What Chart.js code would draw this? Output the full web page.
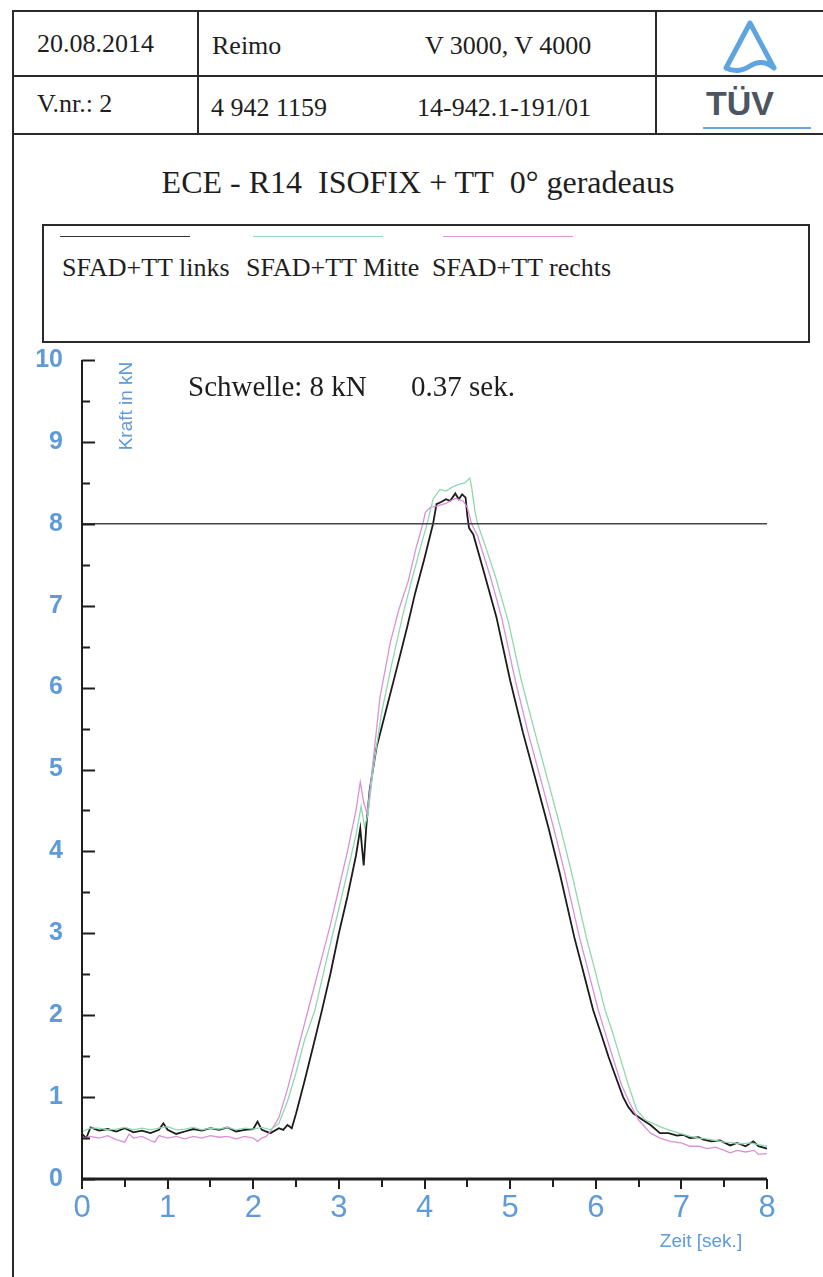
<!DOCTYPE html>
<html lang="de">
<head>
  <meta charset="UTF-8">
  <title>ECE - R14 ISOFIX + TT 0° geradeaus</title>
  <script src="https://cdn.jsdelivr.net/npm/chart.js"></script>
  <style>
    body { margin: 0; width: 823px; height: 1277px; overflow: hidden; background: #fff; position: relative; font-family: "Liberation Serif", "Times New Roman", serif; color: #1e1e1e; }
    .abs { position: absolute; }
    .hl { position: absolute; left: 12px; width: 830px; border-top: 2px solid #2a2a2a; }
    .vl { position: absolute; top: 10px; height: 123px; border-left: 2px solid #2a2a2a; }
    .cell { position: absolute; font-size: 26px; white-space: nowrap; line-height: 1; }
    .leg { position: absolute; font-size: 26px; white-space: nowrap; line-height: 1; }
    .swatch { position: absolute; height: 0; width: 130px; }
  </style>
</head>
<body>

  <!-- header frame -->
  <div class="abs" style="left:12px; top:10px; width:830px; height:1300px; border-left:2px solid #2a2a2a; border-top:2px solid #2a2a2a;"></div>
  <div class="hl" style="top:75px;"></div>
  <div class="hl" style="top:133px;"></div>
  <div class="vl" style="left:197px;"></div>
  <div class="vl" style="left:655px;"></div>

  <div class="cell" style="left:37px; top:31px;">20.08.2014</div>
  <div class="cell" style="left:212px; top:33px;">Reimo</div>
  <div class="cell" style="left:425px; top:33px;">V 3000, V 4000</div>
  <div class="cell" style="left:37px; top:91px;">V.nr.: 2</div>
  <div class="cell" style="left:211px; top:95px;">4 942 1159</div>
  <div class="cell" style="left:417px; top:95px;">14-942.1-191/01</div>

  <!-- TÜV logo -->
  <svg class="abs" style="left:700px; top:18px;" width="100" height="62" viewBox="0 0 100 62">
    <path d="M50 5 L74 50 Q62 40 50 48 Q38 56 26 50 Z" fill="none" stroke="#5ea4e0" stroke-width="5" stroke-linejoin="round"/>
  </svg>
  <div class="abs" style="left:706px; top:86px; font-family:'Liberation Sans',Arial,sans-serif; font-weight:bold; font-size:34px; color:#4c5560; line-height:1;">TÜV</div>
  <div class="abs" style="left:703px; top:127px; width:108px; border-top:2px solid #6aa6dc;"></div>

  <!-- title -->
  <div class="abs" style="left:0; top:166px; width:836px; text-align:center; font-size:32px; line-height:1; white-space:nowrap;">ECE - R14&nbsp; ISOFIX + TT&nbsp; 0° geradeaus</div>

  <!-- legend box -->
  <div class="abs" style="left:42px; top:224px; width:764px; height:115px; border:2px solid #2a2a2a;"></div>
  <div class="swatch" style="left:60px; top:236px; border-top:1.5px solid #333;"></div>
  <div class="swatch" style="left:253px; top:236px; border-top:1.5px solid #9ad9b2;"></div>
  <div class="swatch" style="left:443px; top:236px; border-top:1.5px solid #d99ad6;"></div>
  <div class="leg" style="left:62px; top:255px;">SFAD+TT links</div>
  <div class="leg" style="left:246px; top:255px;">SFAD+TT Mitte</div>
  <div class="leg" style="left:432px; top:255px;">SFAD+TT rechts</div>

  <canvas id="kraftChart" class="abs" style="left:0; top:326px;" width="823" height="944"></canvas>

  <script>
    // Zeit in Sekunden / Kraft in kN
    const linksT = [0, 0.05, 0.1, 0.2, 0.3, 0.4, 0.5, 0.6, 0.7, 0.8,
      0.9, 0.95, 1.0, 1.1, 1.2, 1.3, 1.4, 1.5, 1.6, 1.7,
      1.8, 1.9, 2.0, 2.05, 2.1, 2.2, 2.3, 2.35, 2.4, 2.45,
      2.5, 2.6, 2.7, 2.8, 2.9, 3.0, 3.1, 3.2, 3.25, 3.27,
      3.29, 3.32, 3.36, 3.44, 3.56, 3.68, 3.8, 3.89, 4.0, 4.1,
      4.14, 4.2, 4.25, 4.3, 4.36, 4.4, 4.44, 4.48, 4.5, 4.52,
      4.57, 4.71, 4.84, 5.0, 5.15, 5.31, 5.45, 5.58, 5.75, 5.85,
      5.97, 6.06, 6.15, 6.25, 6.32, 6.38, 6.44, 6.55, 6.64, 6.75,
      6.85, 6.95, 7.02, 7.1, 7.2, 7.26, 7.35, 7.45, 7.57, 7.65,
      7.75, 7.84, 7.9, 8.0];
    const linksV = [0.55, 0.50, 0.63, 0.59, 0.61, 0.58, 0.62, 0.57, 0.59, 0.56,
      0.60, 0.68, 0.60, 0.55, 0.58, 0.61, 0.59, 0.62, 0.60, 0.63,
      0.58, 0.60, 0.61, 0.70, 0.60, 0.56, 0.62, 0.60, 0.66, 0.62,
      0.80, 1.20, 1.62, 2.05, 2.50, 3.00, 3.45, 3.95, 4.28, 4.05,
      3.83, 4.30, 4.75, 5.27, 5.76, 6.25, 6.75, 7.15, 7.58, 8.00,
      8.24, 8.27, 8.30, 8.28, 8.37, 8.30, 8.36, 8.32, 8.10, 7.95,
      7.87, 7.35, 6.86, 6.09, 5.45, 4.83, 4.28, 3.73, 2.95, 2.55,
      2.06, 1.78, 1.49, 1.20, 1.00, 0.88, 0.80, 0.72, 0.66, 0.56,
      0.56, 0.53, 0.54, 0.50, 0.51, 0.48, 0.46, 0.47, 0.41, 0.44,
      0.40, 0.46, 0.40, 0.37];

    const mitteT = [0, 0.1, 0.2, 0.3, 0.4, 0.5, 0.6, 0.7, 0.8, 0.9,
      1.0, 1.1, 1.2, 1.3, 1.4, 1.5, 1.6, 1.7, 1.8, 1.9,
      2.0, 2.1, 2.2, 2.3, 2.4, 2.5, 2.6, 2.72, 2.85, 3.0,
      3.1, 3.2, 3.26, 3.3, 3.34, 3.4, 3.5, 3.62, 3.75, 3.86,
      3.95, 4.03, 4.1, 4.18, 4.25, 4.33, 4.4, 4.47, 4.53, 4.55,
      4.59, 4.62, 4.72, 4.83, 4.98, 5.13, 5.29, 5.45, 5.59, 5.72,
      5.89, 5.99, 6.11, 6.2, 6.28, 6.38, 6.48, 6.58, 6.75, 6.85,
      7.0, 7.1, 7.2, 7.3, 7.4, 7.5, 7.6, 7.7, 7.8, 7.9,
      8.0];
    const mitteV = [0.58, 0.62, 0.62, 0.60, 0.61, 0.63, 0.60, 0.62, 0.60, 0.62,
      0.64, 0.60, 0.61, 0.63, 0.60, 0.62, 0.61, 0.63, 0.60, 0.62,
      0.61, 0.63, 0.60, 0.68, 0.95, 1.30, 1.70, 2.06, 2.65, 3.30,
      3.75, 4.20, 4.55, 4.30, 4.45, 5.00, 5.70, 6.30, 6.90, 7.35,
      7.70, 8.00, 8.30, 8.42, 8.40, 8.45, 8.48, 8.50, 8.56, 8.45,
      8.15, 8.00, 7.70, 7.35, 6.80, 6.09, 5.45, 4.83, 4.28, 3.73,
      2.95, 2.55, 2.06, 1.78, 1.50, 1.15, 0.84, 0.72, 0.64, 0.60,
      0.55, 0.52, 0.50, 0.49, 0.47, 0.45, 0.44, 0.43, 0.44, 0.42,
      0.40];

    const rechtsT = [0, 0.1, 0.2, 0.3, 0.4, 0.5, 0.55, 0.6, 0.7, 0.8,
      0.85, 0.9, 1.0, 1.1, 1.2, 1.3, 1.4, 1.5, 1.6, 1.7,
      1.8, 1.9, 2.0, 2.05, 2.1, 2.15, 2.2, 2.3, 2.4, 2.5,
      2.64, 2.8, 2.9, 3.0, 3.1, 3.2, 3.25, 3.29, 3.33, 3.4,
      3.48, 3.6, 3.7, 3.81, 3.9, 3.98, 4.01, 4.07, 4.15, 4.25,
      4.36, 4.45, 4.5, 4.55, 4.62, 4.77, 4.9, 5.06, 5.21, 5.37,
      5.51, 5.64, 5.81, 5.91, 6.03, 6.12, 6.2, 6.3, 6.4, 6.5,
      6.64, 6.75, 6.87, 7.0, 7.1, 7.2, 7.3, 7.4, 7.5, 7.57,
      7.65, 7.75, 7.85, 7.9, 8.0];
    const rechtsV = [0.50, 0.52, 0.50, 0.53, 0.48, 0.45, 0.55, 0.50, 0.52, 0.47,
      0.45, 0.53, 0.50, 0.52, 0.49, 0.52, 0.50, 0.53, 0.51, 0.52,
      0.49, 0.52, 0.50, 0.46, 0.50, 0.52, 0.58, 0.75, 1.10, 1.50,
      2.06, 2.70, 3.10, 3.55, 4.00, 4.50, 4.85, 4.60, 4.46, 5.10,
      5.88, 6.55, 6.95, 7.30, 7.70, 8.00, 8.14, 8.20, 8.22, 8.25,
      8.31, 8.28, 8.20, 8.00, 7.85, 7.35, 6.86, 6.09, 5.45, 4.83,
      4.28, 3.73, 2.95, 2.55, 2.06, 1.75, 1.48, 1.15, 0.92, 0.72,
      0.56, 0.50, 0.46, 0.44, 0.40, 0.40, 0.37, 0.39, 0.35, 0.32,
      0.35, 0.33, 0.35, 0.30, 0.31];

    const schwelleT = [0, 8];
    const schwelleV = [8, 8];

    const xTicks = [0, 1, 2, 3, 4, 5, 6, 7, 8];
    const yTicks = [0, 1, 2, 3, 4, 5, 6, 7, 8, 9, 10];

    const blue = '#5f9ad9';

    function pts(ts, vs) {
      return ts.map((t, i) => ({ x: t, y: vs[i] }));
    }

    // axes, inner ticks and labels in the style of the printout
    const axesPlugin = {
      id: 'axesPlugin',
      afterDraw(chart) {
        const ctx = chart.ctx;
        const a = chart.chartArea;
        const xs = chart.scales.x;
        const ys = chart.scales.y;
        ctx.save();
        ctx.strokeStyle = '#1e1e1e';

        // y axis + ticks pointing inwards
        ctx.lineWidth = 2;
        ctx.beginPath();
        ctx.moveTo(a.left, a.top);
        ctx.lineTo(a.left, a.bottom);
        ctx.stroke();
        for (let v = 0; v <= 10; v += 0.5) {
          const y = Math.round(ys.getPixelForValue(v)) + 0.5;
          const len = (v % 1 === 0) ? 13 : 8;
          ctx.lineWidth = 2;
          ctx.beginPath();
          ctx.moveTo(a.left, y);
          ctx.lineTo(a.left + len, y);
          ctx.stroke();
        }

        // x axis + ticks pointing down
        ctx.lineWidth = 3;
        ctx.beginPath();
        ctx.moveTo(a.left, a.bottom);
        ctx.lineTo(a.right, a.bottom);
        ctx.stroke();
        for (let t = 0; t <= 8; t += 0.5) {
          const x = Math.round(xs.getPixelForValue(t));
          const len = (t % 1 === 0) ? 10 : 8;
          ctx.lineWidth = 2;
          ctx.beginPath();
          ctx.moveTo(x, a.bottom);
          ctx.lineTo(x, a.bottom + len);
          ctx.stroke();
        }

        // axis titles
        ctx.fillStyle = blue;
        ctx.font = '19px "Liberation Sans", Arial, sans-serif';
        ctx.textAlign = 'center';
        ctx.textBaseline = 'middle';
        ctx.fillText('Zeit [sek.]', a.right - 66, a.bottom + 63);
        ctx.save();
        ctx.translate(a.left + 45, a.top + 46);
        ctx.rotate(-Math.PI / 2);
        ctx.fillText('Kraft in kN', 0, 0);
        ctx.restore();

        // threshold note
        ctx.fillStyle = '#1e1e1e';
        ctx.font = '29px "Liberation Serif", "Times New Roman", serif';
        ctx.textAlign = 'left';
        ctx.textBaseline = 'alphabetic';
        ctx.fillText('Schwelle: 8 kN', a.left + 106, a.top + 36);
        ctx.fillText('0.37 sek.', a.left + 329, a.top + 36);
        ctx.restore();
      }
    };

    new Chart(document.getElementById('kraftChart').getContext('2d'), {
      type: 'line',
      data: {
        datasets: [
          { label: 'Schwelle', data: pts(schwelleT, schwelleV), borderColor: '#444', borderWidth: 1.5 },
          { label: 'SFAD+TT Mitte', data: pts(mitteT, mitteV), borderColor: '#8fd8b0', borderWidth: 1.3 },
          { label: 'SFAD+TT rechts', data: pts(rechtsT, rechtsV), borderColor: '#da92d6', borderWidth: 1.3 },
          { label: 'SFAD+TT links', data: pts(linksT, linksV), borderColor: '#1c1c1c', borderWidth: 1.8 }
        ]
      },
      options: {
        responsive: false,
        animation: false,
        elements: { point: { radius: 0 }, line: { tension: 0, fill: false } },
        layout: { padding: { left: 0, right: 56, top: 4, bottom: 0 } },
        plugins: { legend: { display: false }, tooltip: { enabled: false } },
        scales: {
          x: {
            type: 'linear', min: 0, max: 8,
            afterFit(scale) { scale.height = 91; },
            afterBuildTicks(scale) { scale.ticks = xTicks.map(v => ({ value: v })); },
            border: { display: false },
            grid: { display: false, drawTicks: false },
            ticks: { color: blue, padding: 11, font: { family: '"Liberation Sans", Arial, sans-serif', size: 31 } }
          },
          y: {
            type: 'linear', min: 0, max: 10,
            afterFit(scale) { scale.width = 82; },
            afterBuildTicks(scale) { scale.ticks = yTicks.map(v => ({ value: v })); },
            border: { display: false },
            grid: { display: false, drawTicks: false },
            ticks: { color: blue, padding: 19, font: { family: '"Liberation Sans", Arial, sans-serif', size: 25, weight: 'bold' } }
          }
        }
      },
      plugins: [axesPlugin]
    });
  </script>
</body>
</html>
